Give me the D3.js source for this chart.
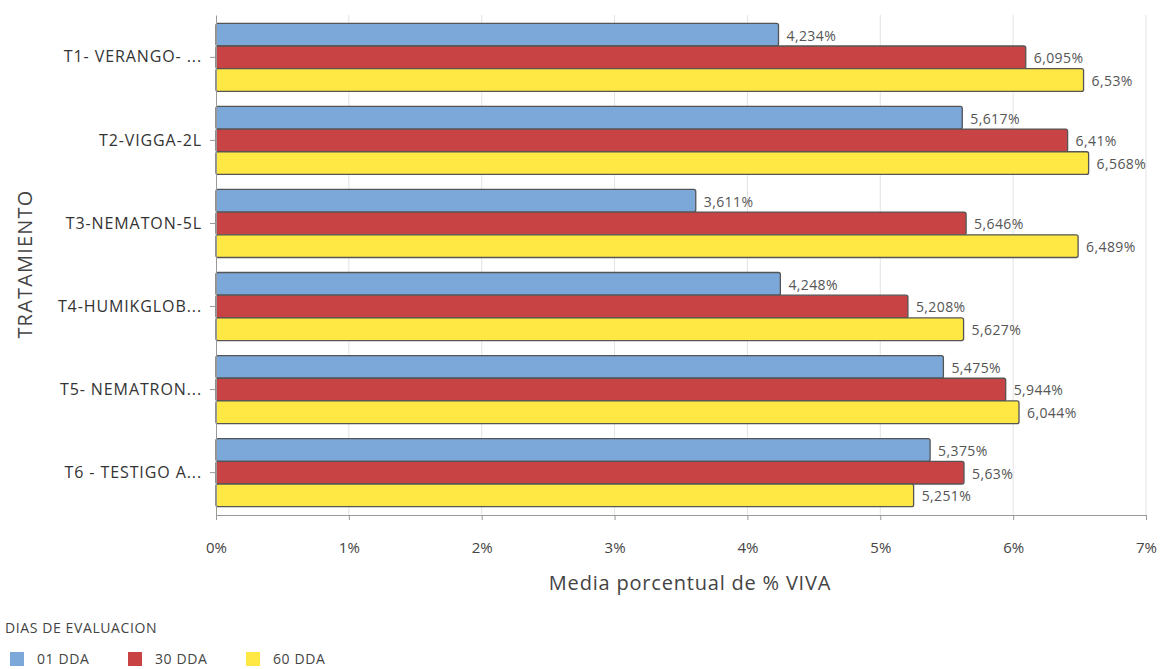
<!DOCTYPE html>
<html><head><meta charset="utf-8">
<script src="https://cdn.jsdelivr.net/npm/d3@7"></script>
<style>body{margin:0;background:#fff;} svg{display:block;font-family:"Open Sans","Noto Sans",sans-serif;}</style>
</head><body><svg id="c" width="1164" height="669"></svg>
<script>
const categories = ["T1- VERANGO- ...","T2-VIGGA-2L","T3-NEMATON-5L","T4-HUMIKGLOB...","T5- NEMATRON...","T6 - TESTIGO A..."];
const seriesNames = ["01 DDA","30 DDA","60 DDA"];
const s01 = [4.234,5.617,3.611,4.248,5.475,5.375];
const s30 = [6.095,6.41,5.646,5.208,5.944,5.63];
const s60 = [6.53,6.568,6.489,5.627,6.044,5.251];
const xTicks = [0,1,2,3,4,5,6,7];
const colors = ["#7BA7D9","#C84444","#FFE843"];
const series = [s01,s30,s60];

const svg = d3.select("#c");
const m = {left:216, right:1146, top:15, bottom:515};
const x = d3.scaleLinear().domain([0,7]).range([m.left, m.right]);
const y = d3.scaleBand().domain(categories).range([m.top, m.bottom]).paddingInner(0.18).paddingOuter(0.1);
const yi = d3.scaleBand().domain(seriesNames).range([0, y.bandwidth()]);

// gridlines
svg.append("g").selectAll("line").data(xTicks.slice(1)).join("line")
  .attr("x1",d=>x(d)).attr("x2",d=>x(d)).attr("y1",m.top).attr("y2",m.bottom)
  .attr("stroke","#e3e3e3").attr("stroke-width",1);

// bars
categories.forEach((c,i)=>{
  seriesNames.forEach((s,j)=>{
    const v = series[j][i];
    const g = svg.append("g");
    g.append("rect").attr("x",x(0)).attr("y",y(c)+yi(s)).attr("width",x(v)-x(0)).attr("height",yi.bandwidth())
      .attr("rx",2).attr("fill",colors[j]).attr("stroke","#555").attr("stroke-width",1.3);
    g.append("text").attr("x",x(v)+8).attr("y",y(c)+yi(s)+yi.bandwidth()/2+1).attr("dy","0.35em")
      .attr("font-size",14).attr("letter-spacing",0.4).attr("fill","#555").text(String(v).replace(".",",")+"%");
  });
});

// x axis
const xa = svg.append("g").attr("transform",`translate(0,${m.bottom})`)
  .call(d3.axisBottom(x).tickValues(xTicks).tickFormat(d=>d+"%").tickSize(5).tickSizeOuter(0));
xa.select(".domain").attr("stroke","#999");
xa.selectAll(".tick line").attr("stroke","#999");
xa.selectAll("text").attr("font-size",15).attr("fill","#444").attr("dy","2em").attr("font-family","Open Sans");

// y axis
const ya = svg.append("g").attr("transform",`translate(${m.left},0)`)
  .call(d3.axisLeft(y).tickSize(6).tickSizeOuter(0).tickPadding(8));
ya.select(".domain").attr("stroke","#999");
ya.selectAll(".tick line").attr("stroke","#999");
ya.selectAll("text").attr("font-size",16).attr("letter-spacing",0.9).attr("fill","#333").attr("font-family","Open Sans");

// titles
svg.append("text").attr("x",690).attr("y",590).attr("text-anchor","middle").attr("font-size",20).attr("letter-spacing",0.8).attr("fill","#444").text("Media porcentual de % VIVA");
svg.append("text").attr("transform","translate(32,264) rotate(-90)").attr("text-anchor","middle").attr("font-size",20).attr("letter-spacing",1.2).attr("fill","#444").text("TRATAMIENTO");

// legend
svg.append("text").attr("x",5).attr("y",633).attr("font-size",14).attr("letter-spacing",0.6).attr("fill","#444").text("DIAS DE EVALUACION");
const lx = [10,128,246];
seriesNames.forEach((s,j)=>{
  svg.append("rect").attr("x",lx[j]).attr("y",652).attr("width",14).attr("height",14).attr("fill",colors[j]);
  svg.append("text").attr("x",lx[j]+27).attr("y",664).attr("font-size",14).attr("letter-spacing",0.6).attr("fill","#444").text(s);
});
</script></body></html>
